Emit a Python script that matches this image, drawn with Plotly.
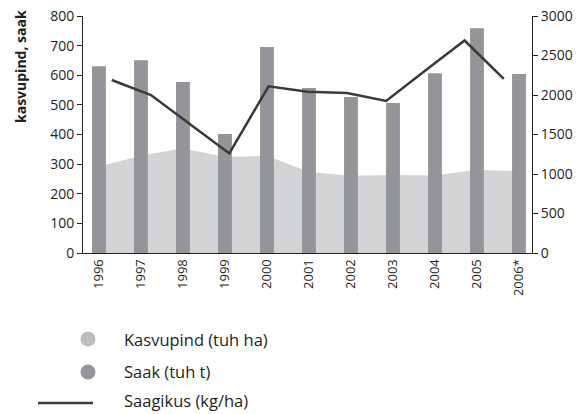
import plotly.graph_objects as go

years = ["1996", "1997", "1998", "1999", "2000", "2001", "2002", "2003", "2004", "2005", "2006*"]
kasvupind = [292, 328, 354, 324, 328, 273, 261, 263, 262, 281, 276]   # tuh ha
saak = [630, 651, 577, 402, 695, 557, 527, 506, 607, 759, 604]        # tuh t
saagikus = [2190, 2000, 1630, 1260, 2110, 2040, 2025, 1925, 2310, 2690, 2205]  # kg/ha
left_ticks = [0, 100, 200, 300, 400, 500, 600, 700, 800]
right_ticks = [0, 500, 1000, 1500, 2000, 2500, 3000]

FONT = "Open Sans"
TXT = "#231f20"
BAR = "#939598"
AREA = "#d1d3d4"
AREA_LEG = "#bcbec0"
LINE = "#3a3a3a"

fig = go.Figure()
# area (main subplot, drawn first)
fig.add_trace(go.Scatter(x=years, y=kasvupind, xaxis="x", yaxis="y", mode="lines",
                         line=dict(width=0, color=AREA), fill="tozeroy", fillcolor=AREA,
                         showlegend=False, hoverinfo="skip"))
# bars on overlay so they sit above the area
fig.add_trace(go.Bar(x=years, y=saak, xaxis="x", yaxis="y2", marker=dict(color=BAR, line=dict(width=0)),
                     width=0.33, showlegend=False))
# yield line on its own x scale
fig.add_trace(go.Scatter(x=list(range(len(years))), y=saagikus, xaxis="x2", yaxis="y3", mode="lines",
                         line=dict(color=LINE, width=2.5), showlegend=False))

W, H = 585, 414
L, R, T, B = 83, 53, 16, 161
pw = W - L - R
ph = H - T - B

def px(x):
    return (x - L) / pw

def py(y):
    return (H - B - y) / ph

fig.update_layout(
    width=W, height=H,
    margin=dict(l=L, r=R, t=T, b=B, autoexpand=False),
    paper_bgcolor="white", plot_bgcolor="white",
    font=dict(family=FONT, size=13, color=TXT),
    showlegend=False,
    xaxis=dict(type="category", range=[-0.38, 10.31], showline=True, linecolor=TXT, linewidth=1,
               ticks="", tickangle=-90, tickfont=dict(size=13), showgrid=False, zeroline=False),
    xaxis2=dict(overlaying="x", range=[-0.732, 10.72], visible=False),
    yaxis=dict(range=[0, 800], tickvals=left_ticks, ticks="outside", ticklen=5, tickcolor=TXT,
               showline=True, linecolor=TXT, linewidth=1, showgrid=False, zeroline=False,
               tickfont=dict(size=14)),
    yaxis2=dict(overlaying="y", range=[0, 800], visible=False),
    yaxis3=dict(overlaying="y", side="right", range=[0, 3000], tickvals=right_ticks, ticks="outside",
                ticklen=5, tickcolor=TXT, showline=True, linecolor=TXT, linewidth=1,
                showgrid=False, zeroline=False, tickfont=dict(size=14)),
)

# y title
fig.add_annotation(xref="paper", yref="paper", x=px(20), y=py(67), text="<b>kasvupind, saak</b>",
                   textangle=-90, showarrow=False, font=dict(size=14, color=TXT),
                   xanchor="center", yanchor="middle")

# manual legend
legend_items = [("Kasvupind (tuh ha)", AREA_LEG, "circle", 339),
                ("Saak (tuh t)", BAR, "circle", 372),
                ("Saagikus (kg/ha)", LINE, "line", 400)]
for label, col, kind, yy in legend_items:
    if kind == "circle":
        fig.add_shape(type="circle", xref="paper", yref="paper", xsizemode="pixel", ysizemode="pixel",
                      xanchor=px(88), yanchor=py(yy), x0=-7.5, x1=7.5, y0=-7.5, y1=7.5,
                      fillcolor=col, line=dict(width=0))
    else:
        fig.add_shape(type="line", xref="paper", yref="paper", x0=px(38), x1=px(93), y0=py(yy + 3), y1=py(yy + 3),
                      line=dict(color=col, width=2.5))
    fig.add_annotation(xref="paper", yref="paper", x=px(122), y=py(yy), text=label, showarrow=False,
                       xanchor="left", yanchor="middle", font=dict(size=16.5, color=TXT))

fig.write_html("out.html", config={"displayModeBar": False},
               post_script="document.body.style.margin='0';document.body.style.overflow='hidden';")
